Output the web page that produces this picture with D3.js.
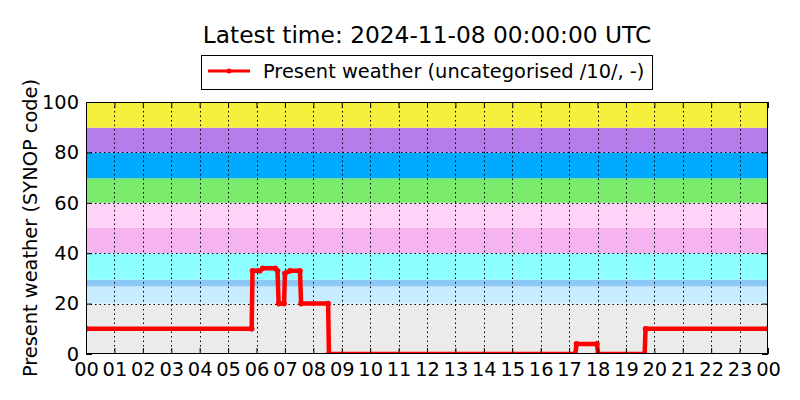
<!DOCTYPE html>
<html><head><meta charset="utf-8">
<script src="https://cdn.jsdelivr.net/npm/d3@7"></script>
<style>body{margin:0;background:#fff}svg{font-family:"DejaVu Sans",sans-serif}</style>
</head><body><svg id="c" width="800" height="400"></svg>
<script>
// Data: time in hours since 00 UTC, present weather SYNOP code
const times  = [0, 5.83, 5.86, 6.12, 6.22, 6.66, 6.74, 6.78, 6.97, 7.0, 7.18, 7.53, 7.57, 8.52, 8.55, 17.22, 17.26, 17.98, 18.02, 19.66, 19.69, 24];
const values = [10, 10, 33, 33, 34, 34, 33, 20, 20, 32, 33, 33, 20, 20, 0, 0, 4, 4, 0, 0, 10, 10];
const hourTicks = d3.range(0, 25);
const hourLabels = hourTicks.map(h => String(h % 24).padStart(2, "0"));
const yTicks = [0, 20, 40, 60, 80, 100];
// Background category bands [from, to, colour]
const bandFrom = [0, 20, 26.8, 29.5, 40, 50, 60, 69.7, 79.9, 89.8];
const bandTo   = [20, 26.8, 29.5, 40, 50, 60, 69.7, 79.9, 89.8, 100];
const bandColors = ["#ebebeb", "#c8ecff", "#8cc8f5", "#8cffff", "#f5b4f0", "#ffd2f8", "#7beb6e", "#00aaff", "#b47deb", "#f5f03c"];
const title = "Latest time: 2024-11-08 00:00:00 UTC";
const legendLabel = "Present weather (uncategorised /10/, -)";
const yLabel = "Present weather (SYNOP code)";

const svg = d3.select("#c");
const L = 86, R = 768, T = 102, B = 354;
const FS = 19.4;
const x = d3.scaleLinear().domain([0, 24]).range([L, R]);
const y = d3.scaleLinear().domain([0, 100]).range([B, T]);

svg.append("defs").append("clipPath").attr("id", "clip")
  .append("rect").attr("x", L).attr("y", T).attr("width", R - L).attr("height", B - T);

// bands
svg.append("g").selectAll("rect").data(bandFrom).join("rect")
  .attr("x", L).attr("width", R - L)
  .attr("y", (d, i) => y(bandTo[i])).attr("height", (d, i) => y(d) - y(bandTo[i]))
  .attr("fill", (d, i) => bandColors[i]);

// grid
const grid = svg.append("g").attr("stroke", "#000").attr("stroke-width", 1).attr("stroke-dasharray", "1.5,3");
grid.selectAll(".gx").data(hourTicks.slice(1, -1)).join("line")
  .attr("x1", d => Math.round(x(d)) + 0.5).attr("x2", d => Math.round(x(d)) + 0.5).attr("y1", T).attr("y2", B);
grid.selectAll(".gy").data(yTicks.slice(1, -1)).join("line")
  .attr("y1", d => Math.round(y(d)) + 0.5).attr("y2", d => Math.round(y(d)) + 0.5).attr("x1", L).attr("x2", R);

// line
const pts = times.map((t, i) => [t, values[i]]);
const g = svg.append("g").attr("clip-path", "url(#clip)");
g.append("path").datum(pts)
  .attr("d", d3.line().x(d => x(d[0])).y(d => y(d[1])))
  .attr("fill", "none").attr("stroke", "#ff0000").attr("stroke-width", 4.5).attr("stroke-linejoin", "round");
g.selectAll("circle").data(pts).join("circle")
  .attr("cx", d => x(d[0])).attr("cy", d => y(d[1])).attr("r", 2.8).attr("fill", "#ff0000");

// axes with inward ticks on all sides
const tl = 6;
const ax = svg.append("g");
const xb = d3.axisBottom(x).tickValues(hourTicks).tickFormat((d, i) => hourLabels[i]).tickSizeInner(-tl).tickSizeOuter(0).tickPadding(8);
const xt = d3.axisTop(x).tickValues(hourTicks).tickFormat("").tickSizeInner(-tl).tickSizeOuter(0);
const yl = d3.axisLeft(y).tickValues(yTicks).tickSizeInner(-tl).tickSizeOuter(0).tickPadding(7);
const yr = d3.axisRight(y).tickValues(yTicks).tickFormat("").tickSizeInner(-tl).tickSizeOuter(0);
function style(sel){ sel.select(".domain").remove(); sel.selectAll("line").attr("stroke","#000"); sel.selectAll("text").attr("fill","#000").attr("font-size",FS).attr("font-family","DejaVu Sans"); }
ax.append("g").attr("transform", `translate(0,${B})`).call(xb).call(style);
ax.append("g").attr("transform", `translate(0,${T})`).call(xt).call(style);
ax.append("g").attr("transform", `translate(${L},0)`).call(yl).call(style);
ax.append("g").attr("transform", `translate(${R},0)`).call(yr).call(style);
svg.append("rect").attr("x", L + 0.5).attr("y", T + 0.5).attr("width", R - L - 1).attr("height", B - T - 1)
  .attr("fill", "none").attr("stroke", "#000").attr("stroke-width", 1);

// title
svg.append("text").attr("x", 427).attr("y", 43).attr("text-anchor", "middle").attr("font-size", 23.3).text(title);
// y label
svg.append("text").attr("transform", "translate(37,228) rotate(-90)").attr("text-anchor", "middle").attr("font-size", FS).text(yLabel);
// legend
const lg = svg.append("g");
lg.append("rect").attr("x", 201.5).attr("y", 55.5).attr("width", 451).attr("height", 34).attr("fill", "#fff").attr("stroke", "#000");
lg.append("line").attr("x1", 208).attr("x2", 250).attr("y1", 71).attr("y2", 71).attr("stroke", "#ff0000").attr("stroke-width", 3);
lg.append("circle").attr("cx", 229).attr("cy", 71).attr("r", 2.5).attr("fill", "#ff0000");
lg.append("text").attr("x", 263).attr("y", 78).attr("font-size", FS).text(legendLabel);
</script></body></html>
